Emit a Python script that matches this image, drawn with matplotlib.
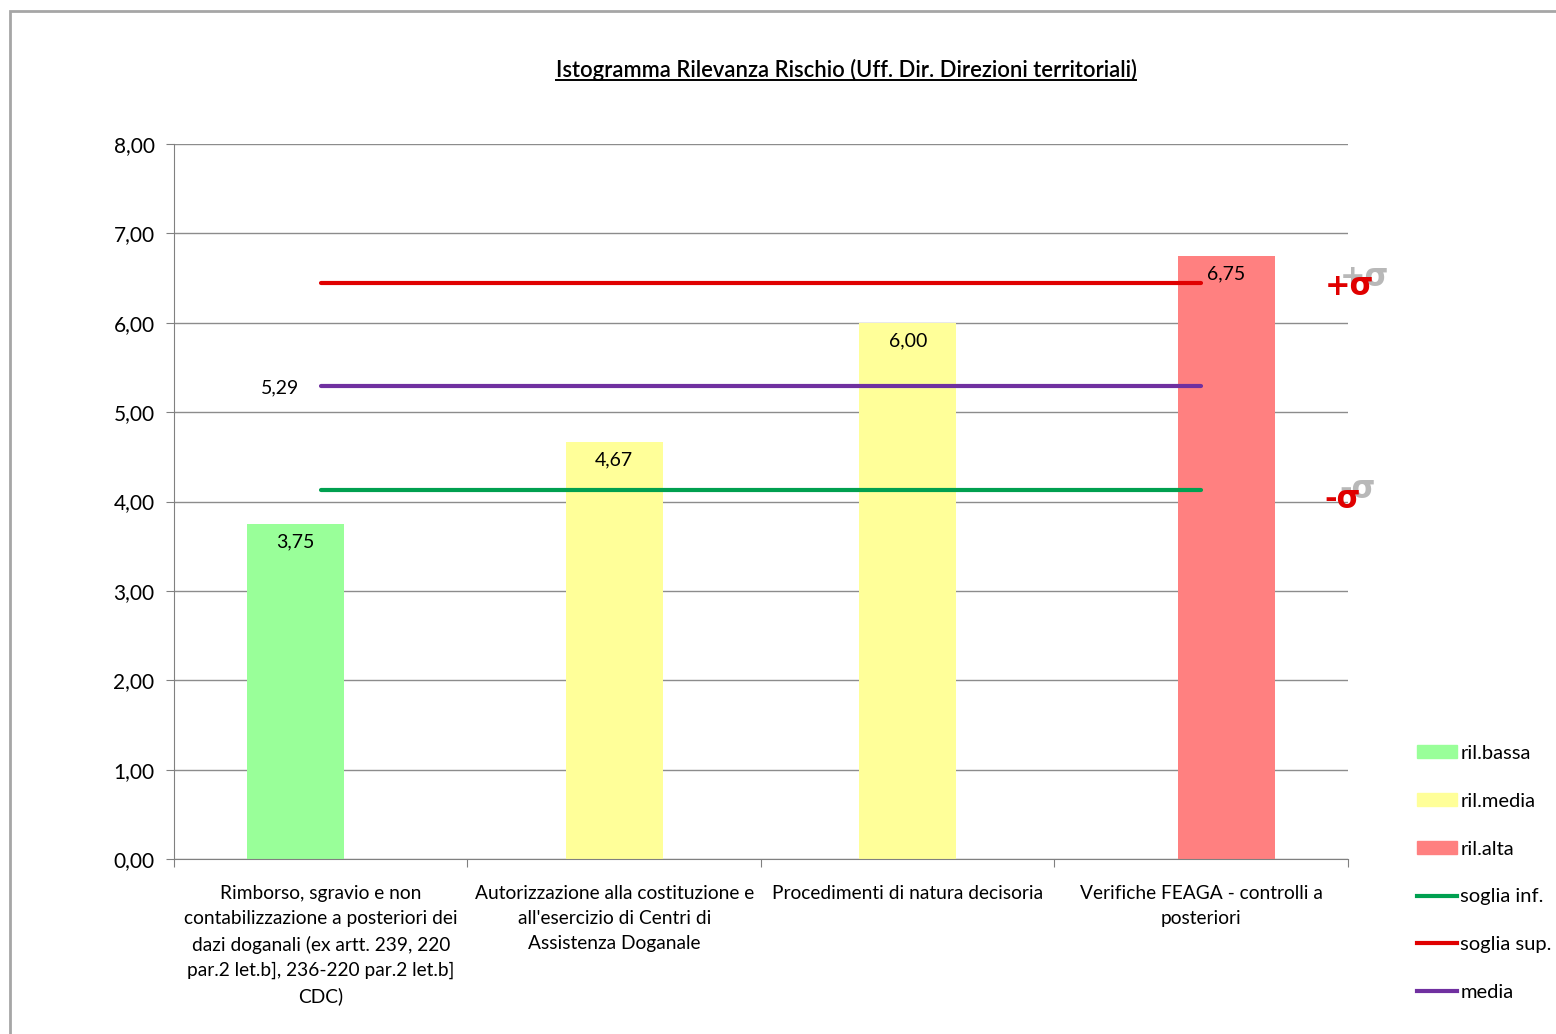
import matplotlib.pyplot as plt
from matplotlib.patches import Patch, Rectangle
from matplotlib.lines import Line2D
from matplotlib.ticker import FuncFormatter

plt.rcParams['font.family'] = ['Lato', 'DejaVu Sans']

# data
categories = ['Rimborso, sgravio e non\ncontabilizzazione a posteriori dei\ndazi doganali (ex artt. 239, 220\npar.2 let.b], 236-220 par.2 let.b]\nCDC)',
              "Autorizzazione alla costituzione e\nall'esercizio di Centri di\nAssistenza Doganale",
              'Procedimenti di natura decisoria',
              'Verifiche FEAGA - controlli a\nposteriori']
values = [3.75, 4.67, 6.00, 6.75]
levels = ['bassa', 'media', 'media', 'alta']
soglia_inf = 4.13
soglia_sup = 6.45
media = 5.29

level_colors = {'bassa': '#99FF99', 'media': '#FFFF99', 'alta': '#FF8080'}
level_offset = {'bassa': -0.085, 'media': 0.0, 'alta': 0.085}
col_inf, col_sup, col_media = '#00A050', '#E00000', '#7030A0'

fig = plt.figure(figsize=(15.56, 10.34), dpi=100)
ax = fig.add_axes([0.1118, 0.1692, 0.7545, 0.6915])

x = list(range(len(categories)))
for i, (v, lev) in enumerate(zip(values, levels)):
    xc = i + level_offset[lev]
    ax.bar(xc, v, width=0.33, color=level_colors[lev], zorder=2)
    ax.annotate(f'{v:.2f}'.replace('.', ','), (xc, v), xytext=(0, -7),
                textcoords='offset points', ha='center', va='top', fontsize=14, zorder=4)

ax.plot(x, [soglia_sup] * 4, color=col_sup, lw=3, zorder=3, solid_capstyle='round')
ax.plot(x, [media] * 4, color=col_media, lw=3, zorder=3, solid_capstyle='round')
ax.plot(x, [soglia_inf] * 4, color=col_inf, lw=3, zorder=3, solid_capstyle='round')
ax.annotate(f'{media:.2f}'.replace('.', ','), (0, media), xytext=(-29, -1),
            textcoords='offset points', ha='center', va='center', fontsize=14)

ax.set_xlim(-0.5, 3.5)
ax.set_ylim(0, 8)
ax.set_yticks(range(0, 9))
ax.yaxis.set_major_formatter(FuncFormatter(lambda v, p: f'{v:.2f}'.replace('.', ',')))
ax.set_xticks([-0.5, 0.5, 1.5, 2.5, 3.5])
ax.set_xticklabels([])
ax.set_xticks(x, minor=True)
ax.set_xticklabels(categories, minor=True, fontsize=13.8, linespacing=1.56, va='top')
ax.tick_params(axis='x', which='minor', length=0, pad=19)
ax.tick_params(axis='x', which='major', length=6, color='#808080')
ax.tick_params(axis='y', length=6, color='#808080', labelsize=15, pad=8)
ax.grid(axis='y', color='#8c8c8c', lw=1, zorder=0)
for s in ['top', 'right']:
    ax.spines[s].set_visible(False)
for s in ['left', 'bottom']:
    ax.spines[s].set_color('#808080')

# sigma markers on the right (grey shadow behind the red sign)
for yv, sign, dy in [(soglia_sup, '+', -3), (soglia_inf, '-', -7)]:
    ax.annotate(sign + 'σ', (1.0, yv), xycoords=('axes fraction', 'data'), xytext=(-6, dy + 7),
                textcoords='offset points', fontsize=22, color='#b8b8b8', fontweight='bold', va='center', family='DejaVu Sans')
    ax.annotate(sign + 'σ', (1.0, yv), xycoords=('axes fraction', 'data'), xytext=(-17, dy),
                textcoords='offset points', fontsize=22, color='#E00000', fontweight='bold', va='center', family='DejaVu Sans')

handles = [Patch(color=level_colors['bassa']), Patch(color=level_colors['media']),
           Patch(color=level_colors['alta']),
           Line2D([], [], color=col_inf, lw=3), Line2D([], [], color=col_sup, lw=3),
           Line2D([], [], color=col_media, lw=3)]
labels = ['ril.bassa', 'ril.media', 'ril.alta', 'soglia inf.', 'soglia sup.', 'media']
fig.legend(handles, labels, loc='center left', bbox_to_anchor=(0.899, 0.1557), frameon=False,
           fontsize=14.5, handlelength=2.0, handleheight=0.6, handletextpad=0.15, labelspacing=1.53)

title = fig.text(0.5437, 0.932, 'Istogramma Rilevanza Rischio (Uff. Dir. Direzioni territoriali)',
                 ha='center', va='center', fontsize=15.8, fontweight='semibold')
fig.canvas.draw()
bb = title.get_window_extent().transformed(fig.transFigure.inverted())
fig.add_artist(Line2D([bb.x0, bb.x1], [bb.y0 + 0.001, bb.y0 + 0.001], color='black', lw=1.4))

fig.add_artist(Rectangle((10 / 1556, -0.01), 1.1, 1 - 11 / 1034 + 0.01, transform=fig.transFigure,
                         fill=False, edgecolor='#a6a6a6', lw=2))

fig.savefig('out.png', dpi=100)
